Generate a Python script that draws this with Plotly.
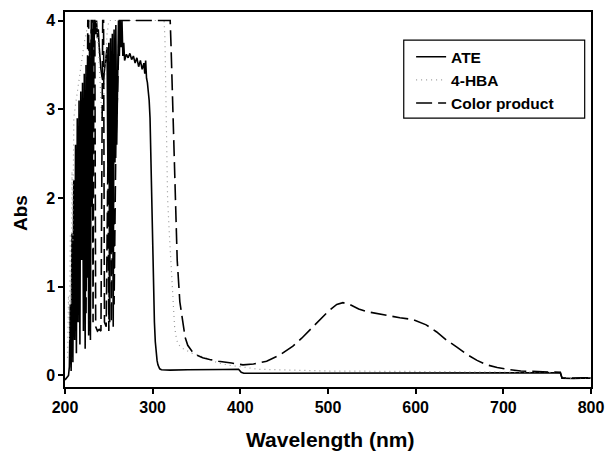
import plotly.graph_objects as go

# ---- data ----
ate_x = [200, 202, 204, 205, 206, 207, 208, 209, 210, 211, 212, 213, 214, 215, 216, 217, 218, 219,
         220, 221, 222, 223, 224, 225, 226, 227, 228, 229, 230, 231, 232, 233, 234, 235, 236, 237,
         238, 239, 240, 241, 242, 243, 244, 245, 246, 247, 248, 249, 250, 251, 252, 253, 254, 255,
         256, 257, 258, 259, 260, 261, 262, 263, 264, 265, 266, 267, 268, 270, 272, 274, 276, 278,
         280, 282, 284, 286, 288, 290, 291, 292, 293, 294, 295, 296, 297, 298, 299, 300, 301, 302,
         303, 304, 305, 306, 307, 308, 310, 320, 340, 360, 380, 398, 401, 404, 450, 500, 550, 600,
         650, 700, 750, 765, 767, 780, 790, 800]
ate_y = [-0.05, -0.02, 0.0, 0.1, 0.8, 0.05, 1.6, 0.15, 2.2, 0.4, 2.6, 0.25, 2.9, 0.6, 3.1, 0.35, 3.2, 1.3,
         3.3, 0.5, 3.4, 0.3, 3.5, 1.1, 3.6, 0.45, 3.75, 0.4, 3.9, 1.9, 4.0, 3.7, 4.0, 3.85, 4.0, 3.8,
         3.9, 3.7, 3.55, 3.45, 3.38, 3.33, 3.35, 3.45, 3.55, 3.65, 3.7, 2.2, 3.75, 0.6, 3.8, 1.5, 3.85, 0.55,
         3.9, 2.4, 3.95, 2.6, 3.3, 4.0, 3.6, 4.0, 3.7, 4.0, 3.6, 3.75, 3.55, 3.62, 3.58, 3.63, 3.56, 3.6,
         3.52, 3.58, 3.48, 3.55, 3.45, 3.52, 3.4, 3.55, 3.35, 3.3, 3.2, 3.1, 2.9, 2.4, 1.9, 1.4, 0.95, 0.6,
         0.38, 0.25, 0.17, 0.12, 0.09, 0.075, 0.065, 0.06, 0.065, 0.07, 0.068, 0.07, 0.035, 0.025, 0.025, 0.028, 0.03, 0.03,
         0.032, 0.032, 0.03, 0.03, -0.03, -0.035, -0.03, -0.03]

hba_x = [203, 204, 205, 206, 207, 208, 209, 210, 212, 214, 216, 218, 220, 222, 224, 226, 228, 236,
         238, 240, 242, 244, 246, 248, 250, 313, 314, 315, 316, 317, 319, 321, 323, 325, 327, 329,
         335, 345, 360, 375, 390, 400, 420, 450, 500, 600, 700, 765, 767, 800]
hba_y = [0.2, 0.9, 0.4, 1.6, 0.8, 2.3, 1.5, 2.9, 3.05, 3.2, 3.3, 3.45, 3.6, 3.75, 3.85, 3.95, 4.0, 4.0,
         3.7, 3.2, 2.9, 3.1, 3.5, 3.85, 4.0, 4.0, 3.8, 3.2, 2.6, 2.0, 1.6, 1.2, 0.85, 0.55, 0.42, 0.35,
         0.3, 0.25, 0.2, 0.14, 0.11, 0.1, 0.07, 0.06, 0.05, 0.045, 0.04, 0.035, -0.03, -0.03]

cp_x = [224, 226, 227, 228, 230, 231, 232, 233, 234, 235, 237, 239, 241, 243, 244, 245, 247, 249,
        250, 252, 253, 255, 256, 258, 260, 262, 300, 320, 321, 323, 325, 328, 331, 334, 337, 340,
        345, 350, 357, 365, 375, 390, 403, 415, 430, 445, 460, 470, 480, 491, 500, 510, 517, 525,
        535, 544, 559, 570, 582, 597, 612, 624, 635, 647, 658, 670, 681, 693, 704, 720, 734, 750,
        765, 767, 800]
cp_y = [0.7, 4.0, 4.0, 0.5, 4.0, 4.0, 0.6, 4.0, 4.0, 0.55, 0.5, 0.52, 0.5, 4.0, 4.0, 0.6, 0.55, 2.5,
        0.5, 2.7, 0.6, 2.5, 0.8, 2.6, 3.2, 4.0, 4.0, 4.0, 3.7, 3.0, 2.1, 1.3, 0.83, 0.6, 0.43, 0.34,
        0.27, 0.23, 0.2, 0.18, 0.16, 0.14, 0.12, 0.13, 0.16, 0.23, 0.33, 0.42, 0.52, 0.63, 0.72, 0.8, 0.82, 0.8,
        0.75, 0.72, 0.69, 0.67, 0.65, 0.63, 0.57, 0.49, 0.4, 0.32, 0.24, 0.17, 0.12, 0.09, 0.07, 0.05, 0.045, 0.04,
        0.035, -0.03, -0.025]

x_ticks = [200, 300, 400, 500, 600, 700, 800]
y_ticks = [0, 1, 2, 3, 4]

FONT = "Liberation Sans, Arial, sans-serif"

fig = go.Figure()
fig.add_trace(go.Scatter(x=ate_x, y=ate_y, mode="lines", name="ATE",
                         line=dict(color="black", width=1.6)))
fig.add_trace(go.Scatter(x=hba_x, y=hba_y, mode="lines", name="4-HBA",
                         line=dict(color="#9a9a9a", width=1.2, dash="1px,4px")))
fig.add_trace(go.Scatter(x=cp_x, y=cp_y, mode="lines", name="Color product",
                         line=dict(color="black", width=1.6, dash="16px,6px")))

# legend frame
fig.add_shape(type="rect", xref="paper", yref="paper",
              x0=0.644, x1=0.988, y0=0.717, y1=0.925,
              line=dict(color="black", width=1.2), fillcolor="rgba(0,0,0,0)")

# axis titles
fig.add_annotation(text="Wavelength (nm)", xref="paper", yref="paper",
                   x=0.503, y=-0.141, xanchor="center", yanchor="middle", showarrow=False,
                   font=dict(family=FONT, size=21, weight="bold", color="black"))
fig.add_annotation(text="Abs", xref="paper", yref="paper", textangle=-90,
                   x=-0.0855, y=0.464, xanchor="center", yanchor="middle", showarrow=False,
                   font=dict(family=FONT, size=19, weight="bold", color="black"))

fig.update_layout(
    width=609, height=458,
    margin=dict(l=65, r=17.5, t=12, b=71),
    paper_bgcolor="white", plot_bgcolor="white",
    font=dict(family=FONT, color="black"),
    showlegend=True,
    legend=dict(x=0.658, y=0.925, xanchor="left", yanchor="top",
                bgcolor="rgba(0,0,0,0)", borderwidth=0,
                font=dict(family=FONT, size=15.5, weight="bold", color="black")),
    xaxis=dict(range=[200, 800], tickvals=x_ticks, ticktext=[str(v) for v in x_ticks],
               automargin=False,
               showgrid=False, zeroline=False, showline=True, mirror=True,
               linecolor="black", linewidth=1.5, ticks="outside", ticklen=5,
               tickwidth=1.5, tickcolor="black",
               tickfont=dict(family=FONT, size=16, weight="bold", color="black")),
    yaxis=dict(range=[-0.13, 4.096], tickvals=y_ticks, ticktext=[str(v) for v in y_ticks],
               automargin=False,
               showgrid=False, zeroline=False, showline=True, mirror=True,
               linecolor="black", linewidth=1.5, ticks="outside", ticklen=5,
               tickwidth=1.5, tickcolor="black",
               tickfont=dict(family=FONT, size=16, weight="bold", color="black")),
)

fig.write_html("out.html", config={"displayModeBar": False},
               post_script="document.body.style.margin='0';document.body.style.overflow='hidden';")
